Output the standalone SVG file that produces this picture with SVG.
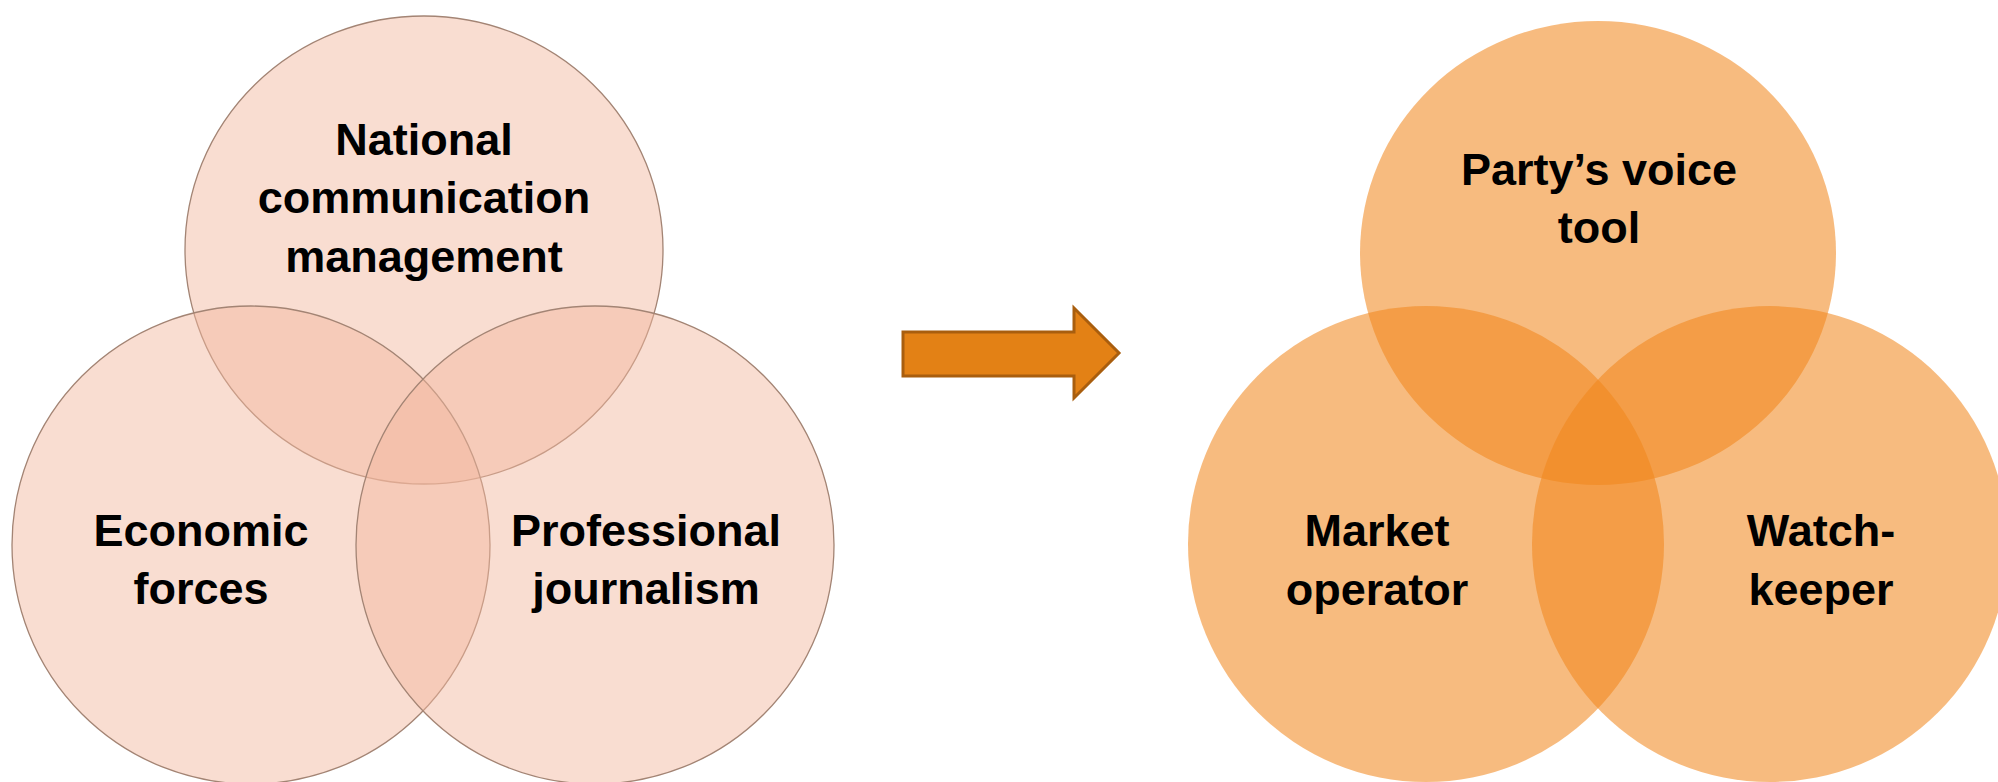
<svg xmlns="http://www.w3.org/2000/svg" width="1998" height="782" viewBox="0 0 1998 782">
  <style>
    .peach { fill: #F2B79D; fill-opacity: 0.47; stroke: #A38474; stroke-width: 1.3; }
    .orange { fill: #F0861A; fill-opacity: 0.56; stroke: none; }
    .label { font-family: "Liberation Sans", Arial, sans-serif; font-weight: bold; font-size: 45px; fill: #000; text-anchor: middle; }
    .arrow { fill: #E38115; stroke: #A95E0E; stroke-width: 3; stroke-linejoin: miter; }
  </style>
  <rect width="1998" height="782" fill="#FFFFFF"/>

  <!-- Before: three overlapping roles -->
  <g id="before">
    <g id="national-communication-management">
      <ellipse class="peach" cx="424" cy="250" rx="239" ry="234"/>
    </g>
    <g id="economic-forces">
      <circle class="peach" cx="251" cy="545" r="239"/>
    </g>
    <g id="professional-journalism">
      <circle class="peach" cx="595" cy="545" r="239"/>
    </g>
    <text class="label" x="424" y="155">National</text>
    <text class="label" x="424" y="213">communication</text>
    <text class="label" x="424" y="272">management</text>
    <text class="label" x="201" y="546">Economic</text>
    <text class="label" x="201" y="604">forces</text>
    <text class="label" x="646" y="546">Professional</text>
    <text class="label" x="646" y="604">journalism</text>
  </g>

  <!-- Transition arrow -->
  <g id="connectors">
    <path class="arrow" d="M903,332 H1074 V308 L1119,353 L1074,398 V376 H903 Z"/>
  </g>

  <!-- After: three overlapping roles -->
  <g id="after">
    <g id="partys-voice-tool">
      <ellipse class="orange" cx="1598" cy="253" rx="238" ry="232"/>
    </g>
    <g id="market-operator">
      <circle class="orange" cx="1426" cy="544" r="238"/>
    </g>
    <g id="watch-keeper">
      <circle class="orange" cx="1770" cy="544" r="238"/>
    </g>
    <text class="label" x="1599" y="185">Party’s voice</text>
    <text class="label" x="1599" y="243">tool</text>
    <text class="label" x="1377" y="546">Market</text>
    <text class="label" x="1377" y="605">operator</text>
    <text class="label" x="1821" y="546">Watch-</text>
    <text class="label" x="1821" y="605">keeper</text>
  </g>
</svg>
